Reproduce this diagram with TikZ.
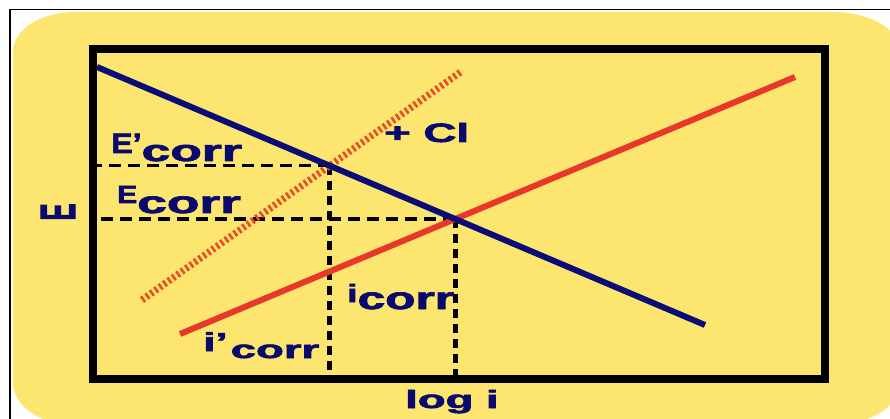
\documentclass[tikz,border=0pt]{standalone}
\usepackage{fontspec}
\usepackage{graphicx}
\newfontfamily\labfont[BoldFeatures={FakeBold=2.2}]{Liberation Sans}
\definecolor{bgyellow}{RGB}{253,230,112}
\definecolor{navyline}{RGB}{12,12,120}
\definecolor{navytext}{RGB}{10,10,110}
\definecolor{redline}{RGB}{232,56,44}
\definecolor{hatchred}{RGB}{232,78,36}
\newcommand{\sxt}[3]{\scalebox{#1}[1]{\fontsize{#2}{#2}\selectfont #3}}
\tikzset{
  lab/.style={text=navytext, inner sep=0pt, font=\labfont\bfseries},
  axisbox/.style={draw=black, line width=8pt},
  navycurve/.style={draw=navyline, line width=6pt},
  redcurve/.style={draw=redline, line width=6pt},
  hatchcurve/.style={draw=hatchred, line width=7pt, dash pattern=on 2.6pt off 2.8pt},
  hdash/.style={draw=black, line width=3.2pt, dash pattern=on 12pt off 7pt},
  vdash/.style={draw=black, line width=5pt, dash pattern=on 9pt off 6pt},
}
\begin{document}
\begin{tikzpicture}[x=1pt,y=-1pt]
\useasboundingbox (0,0) rectangle (890,419);
\fill[white] (0,0) rectangle (890,419);
% yellow rounded panel (elliptic corners)
\fill[bgyellow] (75,12) -- (834,12)
  .. controls (870,12) and (902,30) .. (902,55)
  -- (902,380)
  .. controls (902,405) and (870,425) .. (834,425)
  -- (75,425)
  .. controls (40,425) and (13,405) .. (13,383)
  -- (13,52)
  .. controls (13,30) and (40,12) .. (75,12) -- cycle;
% thin outer frame
\draw[black, line width=1.5pt] (10,421) -- (10,9.5) -- (892,9.5);
% axis box
\draw[axisbox] (93,49) rectangle (825,379);
\coordinate (axL) at (97,0);
\coordinate (axB) at (0,375);
% curves
\coordinate (n1) at (97,67);
\coordinate (n2) at (705,325);
\coordinate (r1) at (180,334);
\coordinate (r2) at (795,77);
\coordinate (h1) at (142,300);
\coordinate (h2) at (462,71);
\coordinate (ipA) at (intersection of n1--n2 and h1--h2);
\coordinate (ipB) at (intersection of n1--n2 and r1--r2);
% dashed guides
\draw[hdash] (ipA) -- (axL |- ipA);
\draw[hdash] (ipB) -- (axL |- ipB);
\draw[vdash] (ipA) -- (ipA |- axB);
\draw[vdash] (ipB) -- (ipB |- axB);
\draw[hatchcurve] (h1) -- (h2);
\draw[redcurve] (r1) -- (r2);
\draw[navycurve] (n1) -- (n2);
% labels
\node[lab, anchor=base west] (lEp) at (111,153) {\sxt{1.15}{28}{E’}\raisebox{-8pt}{\sxt{1.72}{30}{corr}}};
\node[lab, anchor=base west] (lE0) at (117,203) {\sxt{1.2}{25}{E}\raisebox{-10pt}{\sxt{1.72}{31}{corr}}};
\node[lab, anchor=base west] (lip) at (203,351) {\sxt{1.7}{26}{i’}\hspace{3pt}\raisebox{-7pt}{\sxt{1.82}{25}{corr}}};
\node[lab, anchor=base west] (lic) at (347,302) {\sxt{1.5}{25}{i}\raisebox{-7pt}{\sxt{1.6}{31}{corr}}};
\node[lab, anchor=base west] (lcl) at (384,142) {\sxt{1.72}{26.5}{+ Cl}};
\node[lab, anchor=base west] (llog) at (405,408) {\sxt{1.82}{25}{log i}};
\node[lab] (lEax) at (58,212) {\resizebox{34pt}{17pt}{\rotatebox{90}{E}}};
\end{tikzpicture}
\end{document}
